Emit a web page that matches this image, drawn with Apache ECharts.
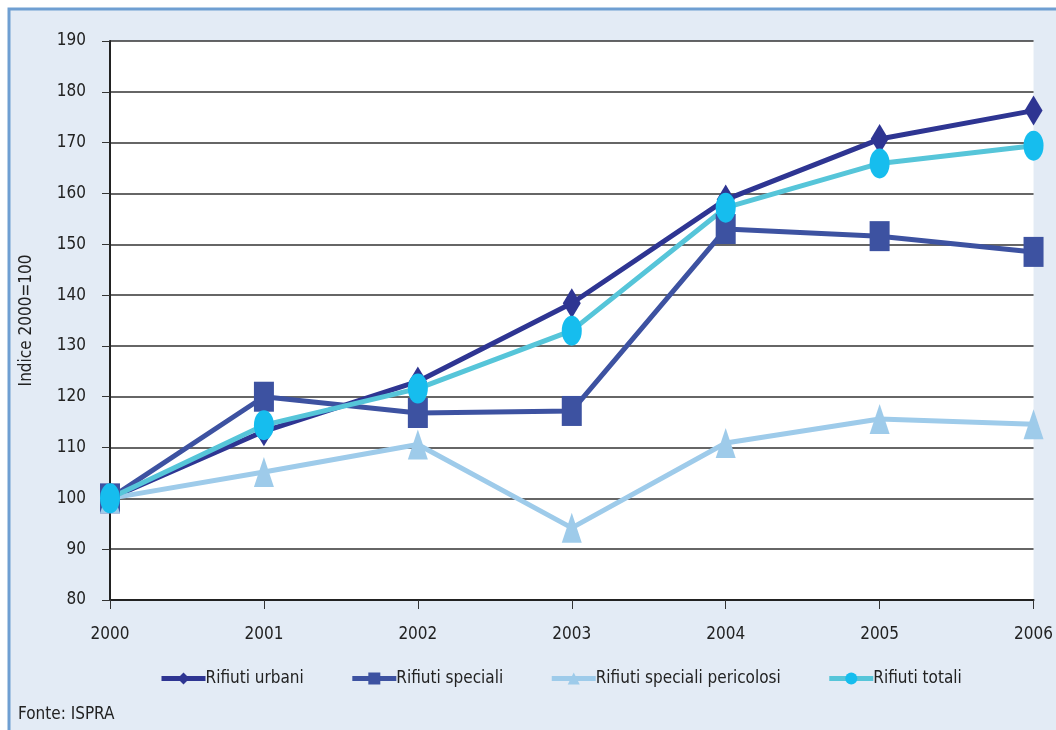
<!DOCTYPE html>
<html>
<head>
<meta charset="utf-8">
<script src="https://cdn.jsdelivr.net/npm/echarts@6/dist/echarts.min.js"></script>
<style>
  html, body { margin: 0; padding: 0; background: #ffffff; }
  #chart { width: 1056px; height: 730px; }
</style>
</head>
<body>
<div id="chart"></div>
<script>
// Index of waste production, base year 2000 = 100
const years = ['2000', '2001', '2002', '2003', '2004', '2005', '2006'];
const rifiutiUrbani = [100, 113.2, 123.0, 138.4, 158.8, 170.7, 176.3];
const rifiutiSpeciali = [100, 120.0, 116.8, 117.2, 153.0, 151.6, 148.5];
const rifiutiPericolosi = [100, 105.2, 110.6, 94.2, 110.9, 115.6, 114.6];
const rifiutiTotali = [100, 114.4, 121.6, 133.0, 157.2, 165.9, 169.4];
const seriesNames = ['Rifiuti urbani', 'Rifiuti speciali', 'Rifiuti speciali pericolosi', 'Rifiuti totali'];

const FONT = '"Liberation Sans Narrow", "DejaVu Sans Condensed", "Liberation Sans", sans-serif';

const chart = echarts.init(document.getElementById('chart'), null, { renderer: 'canvas' });

function lineSeries(name, data, lineColor, markerColor, symbol, size) {
  return {
    name: name,
    type: 'line',
    data: data,
    symbol: symbol,
    symbolSize: size,
    showAllSymbol: true,
    lineStyle: { color: lineColor, width: 5 },
    itemStyle: { color: markerColor, borderWidth: 0 },
    emphasis: { disabled: true },
    animation: false
  };
}

chart.setOption({
  backgroundColor: '#ffffff',
  graphic: [
    {
      type: 'rect',
      z: -10,
      shape: { x: 9, y: 9, width: 1080, height: 760 },
      style: { fill: '#e3ebf5', stroke: '#6f9fd2', lineWidth: 3 }
    },
    {
      type: 'text',
      left: 18,
      top: 706,
      style: { text: 'Fonte: ISPRA', fill: '#222', font: '17px ' + FONT }
    }
  ],
  grid: {
    left: 110, right: 20, top: 41, bottom: 130,
    show: true, backgroundColor: '#ffffff', borderWidth: 0
  },
  legend: {
    data: seriesNames,
    bottom: 38,
    left: 154,
    itemGap: 46,
    itemWidth: 44,
    itemHeight: 15,
    lineStyle: { width: 5 },
    textStyle: { fontFamily: FONT, fontSize: 17, color: '#222', padding: [0, 0, 0, -5] }
  },
  xAxis: {
    type: 'category',
    data: years,
    boundaryGap: false,
    axisLine: { lineStyle: { color: '#222', width: 2 } },
    axisTick: { show: true, length: 9, lineStyle: { color: '#333', width: 1 } },
    axisLabel: { color: '#222', fontFamily: FONT, fontSize: 17, margin: 26 },
    splitLine: { show: false }
  },
  yAxis: {
    type: 'value',
    min: 80,
    max: 190,
    interval: 10,
    name: 'Indice 2000=100',
    nameLocation: 'middle',
    nameGap: 75,
    nameTextStyle: { color: '#222', fontFamily: FONT, fontSize: 17 },
    axisLine: { show: true, lineStyle: { color: '#222', width: 2 } },
    axisTick: { show: true, length: 8, lineStyle: { color: '#333', width: 1 } },
    axisLabel: { color: '#222', fontFamily: FONT, fontSize: 17, margin: 24 },
    splitLine: { show: true, lineStyle: { color: '#333', width: 1.5 } }
  },
  series: [
    lineSeries(seriesNames[0], rifiutiUrbani, '#2e3592', '#2e3592', 'diamond', [18, 30]),
    lineSeries(seriesNames[1], rifiutiSpeciali, '#3d52a1', '#3d52a1', 'rect', [20, 30]),
    lineSeries(seriesNames[2], rifiutiPericolosi, '#9ecbea', '#9ecbea', 'triangle', [20, 30]),
    lineSeries(seriesNames[3], rifiutiTotali, '#56c5d9', '#16bdee', 'circle', [20, 30])
  ]
});
</script>
</body>
</html>
